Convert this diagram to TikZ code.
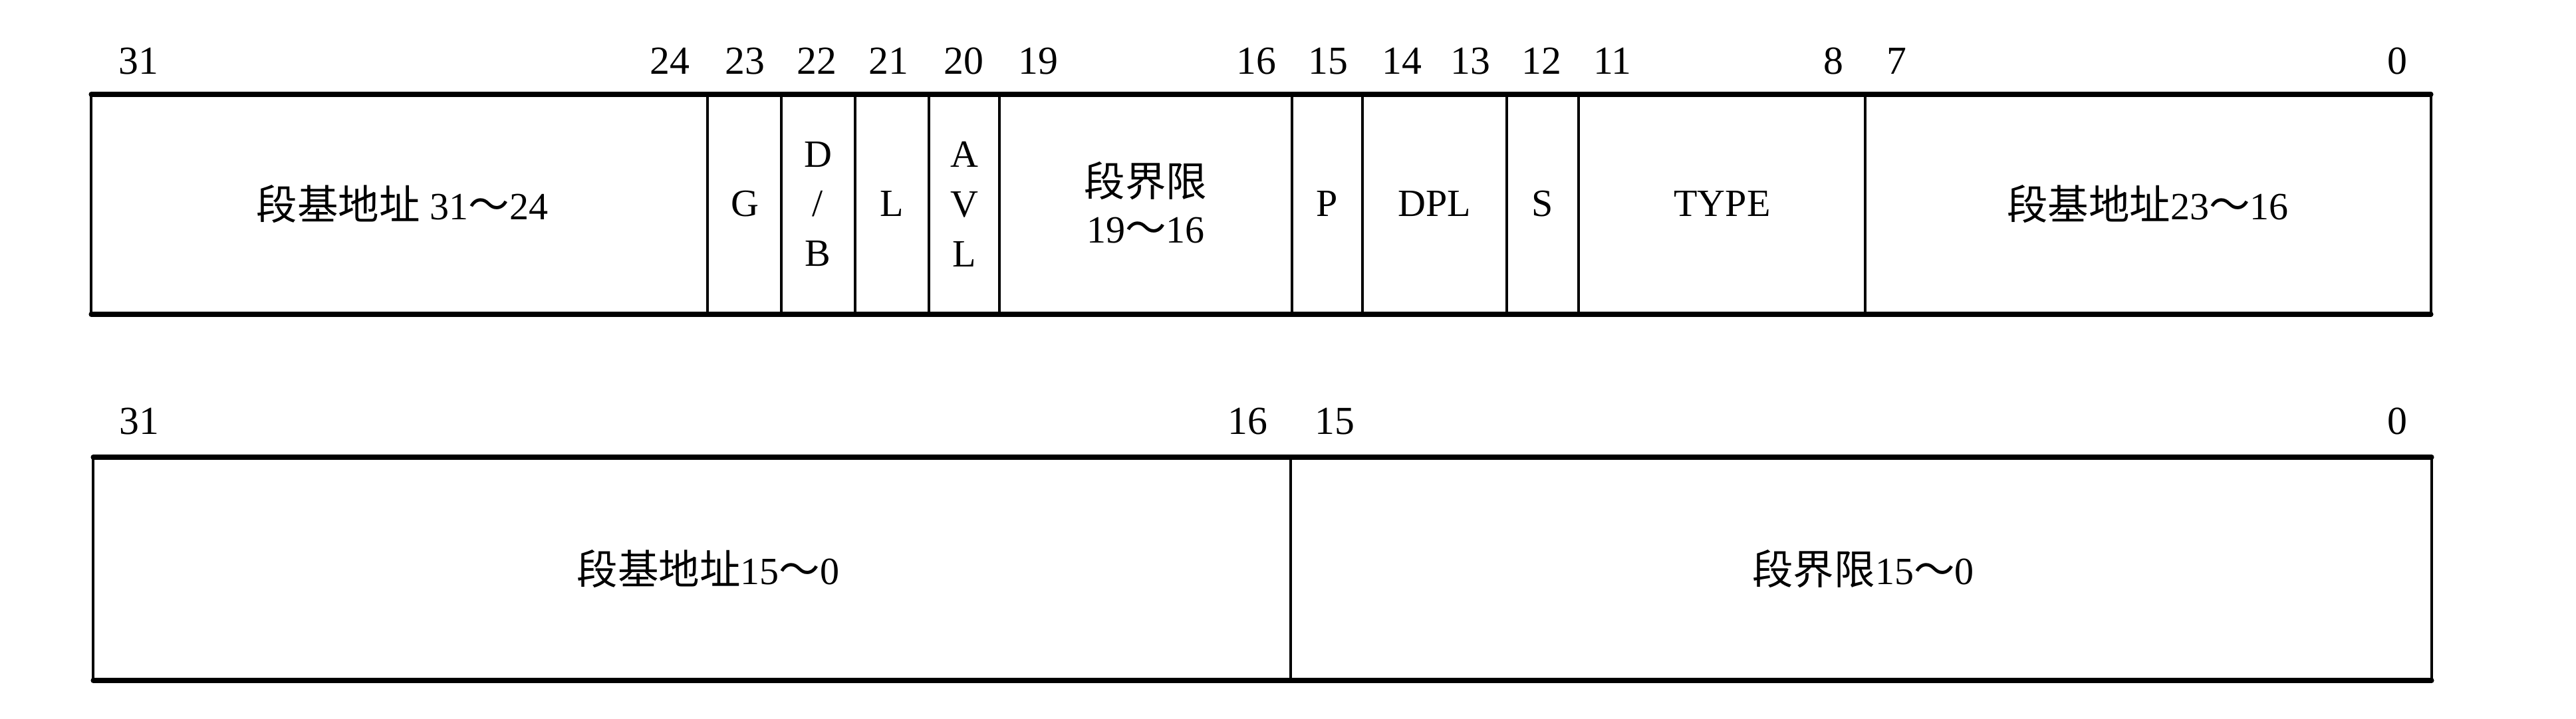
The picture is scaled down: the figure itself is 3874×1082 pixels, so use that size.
\documentclass[tikz,border=0pt]{standalone}
\usepackage{fontspec}
\setmainfont{Liberation Serif}
\newfontfamily\cjkfont{Noto Sans CJK SC}
\newcommand\cjk[1]{{\fontsize{17.5}{20}\cjkfont #1}}
\usetikzlibrary{positioning}

\tikzset{
  bitnum/.style={inner sep=0pt, font=\fontsize{17}{20}\selectfont},
  fieldtext/.style={inner sep=0pt, align=center, font=\fontsize{16.5}{21.3}\selectfont},
  edgeline/.style={line width=2pt, line cap=round},
  sepline/.style={line width=0.9pt}
}

\begin{document}
\begin{tikzpicture}[x=0.01cm,y=-0.01cm]

  \useasboundingbox (0,0) rectangle (3874,1082);

  % descriptor, high double word
  \def\ta{142}
  \def\tb{473}
  \draw[edgeline] (137,\ta) -- (3656,\ta);
  \draw[edgeline] (137,\tb) -- (3656,\tb);
  \foreach \x in {137,1064,1175,1286,1397,1503,1943,2049,2266,2374,2805,3656} {
    \draw[sepline] (\x,\ta) -- (\x,\tb);
  }

  \foreach \x/\n in {208/31,1007/24,1120/23,1228/22,1336/21,1449/20,1561/19,
                     1889/16,1997/15,2108/14,2211/13,2318/12,2425/11,2757/8,2852/7,3605/0} {
    \node[bitnum] (t\n) at (\x,92) {\n};
  }

  \node[fieldtext] (base3) at (605,307) {\cjk{段基地址} 31\cjk{～}24};
  \node[fieldtext] (g)     at (1120,307) {G};
  \node[fieldtext] (db)    at (1230,307) {D\\/\\B};
  \node[fieldtext] (l)     at (1341,307) {L};
  \node[fieldtext] (avl)   at (1450,307) {A\\V\\L};
  \node[fieldtext, font=\fontsize{16.5}{20}\selectfont] (lim2) at (1723,305) {\cjk{段界限}\\19\cjk{～}16};
  \node[fieldtext] (p)     at (1996,307) {P};
  \node[fieldtext] (dpl)   at (2157,307) {DPL};
  \node[fieldtext] (s)     at (2320,307) {S};
  \node[fieldtext] (type)  at (2590,307) {TYPE};
  \node[fieldtext] (base2) at (3230,307) {\cjk{段基地址}23\cjk{～}16};

  % descriptor, low double word
  \def\ua{688}
  \def\ub{1024}
  \draw[edgeline] (140,\ua) -- (3657,\ua);
  \draw[edgeline] (140,\ub) -- (3657,\ub);
  \foreach \x in {140,1941,3657} {
    \draw[sepline] (\x,\ua) -- (\x,\ub);
  }

  \foreach \x/\n in {209/31,1876/16,2007/15,3605/0} {
    \node[bitnum] (u\n) at (\x,634) {\n};
  }

  \node[fieldtext] (base1) at (1065,856) {\cjk{段基地址}15\cjk{～}0};
  \node[fieldtext] (lim1)  at (2802,856) {\cjk{段界限}15\cjk{～}0};

\end{tikzpicture}
\end{document}
